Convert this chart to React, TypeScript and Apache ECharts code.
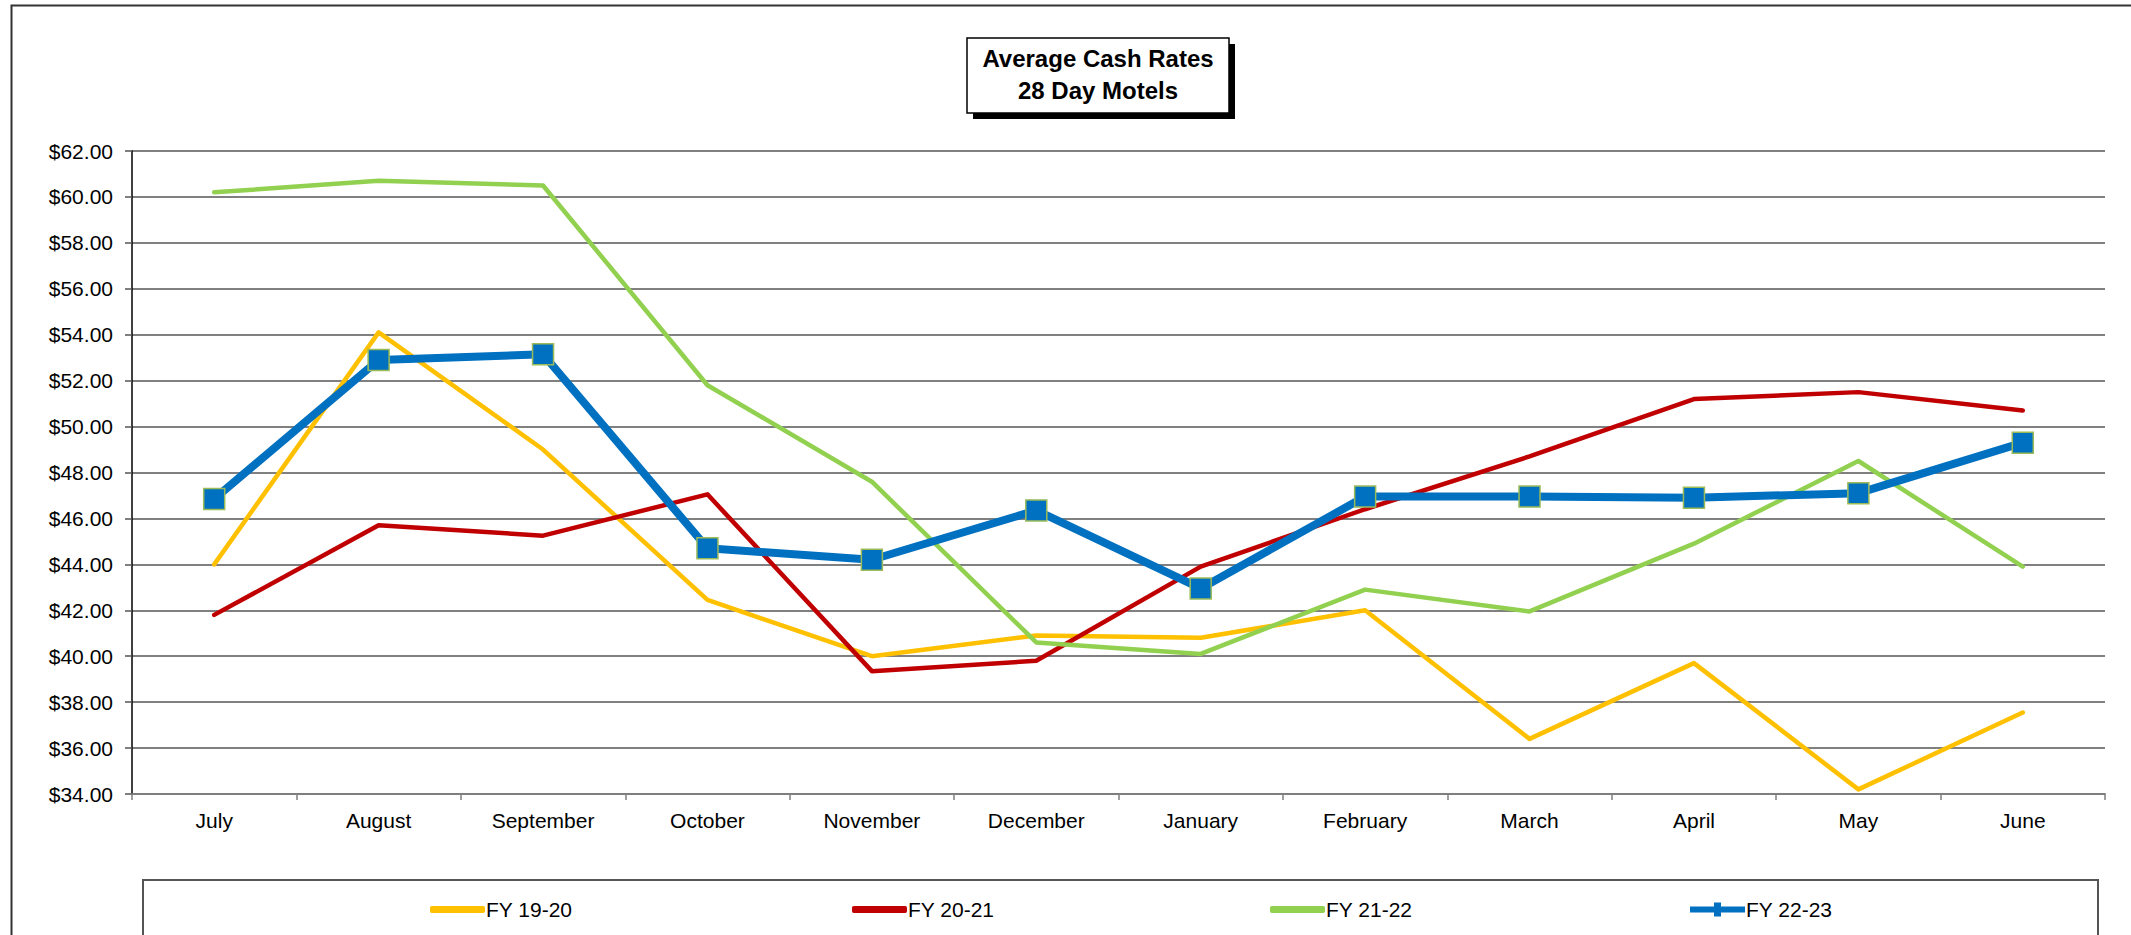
import React, { useEffect, useRef } from "react";
import * as echarts from "echarts";

const months = ["July", "August", "September", "October", "November", "December", "January", "February", "March", "April", "May", "June"];
const fy1920 = [44.0, 54.1, 49.0, 42.45, 40.0, 40.9, 40.8, 42.0, 36.4, 39.7, 34.2, 37.55];
const fy2021 = [41.8, 45.7, 45.25, 47.05, 39.35, 39.8, 43.9, 46.4, 48.7, 51.2, 51.5, 50.7];
const fy2122 = [60.2, 60.7, 60.5, 51.8, 47.6, 40.6, 40.1, 42.9, 41.95, 44.9, 48.5, 43.9];
const fy2223 = [46.85, 52.9, 53.15, 44.7, 44.2, 46.35, 42.95, 46.95, 46.95, 46.9, 47.1, 49.3];
const seriesNames = ["FY 19-20", "FY 20-21", "FY 21-22", "FY 22-23"];
const titleLines = ["Average Cash Rates", "28 Day Motels"];

const FONT = "'Liberation Sans', Arial, sans-serif";
const NARROW = "'Liberation Sans Narrow', 'Arial Narrow', 'Liberation Sans', sans-serif";
const BLUE_ICON = "path://M0,4L24,4L24,0L31,0L31,4L55,4L55,10L31,10L31,14L24,14L24,10L0,10Z";

export default function App() {
  const ref = useRef<HTMLDivElement>(null);
  useEffect(() => {
    const chart = echarts.init(ref.current!, null, { renderer: "svg" });
    const legendLefts = [425, 847, 1265, 1685];
    const lineSeries = (name: string, data: number[], color: string, width: number) => ({
      name,
      type: "line",
      data,
      symbol: "none",
      lineStyle: { color, width, cap: "round", join: "round" },
      itemStyle: { color },
    });
    chart.setOption({
      animation: false,
      backgroundColor: "#fff",
      textStyle: { fontFamily: FONT },
      grid: { left: 132, right: 26, top: 151, bottom: 141 },
      xAxis: {
        type: "category",
        data: months,
        boundaryGap: true,
        axisLine: { lineStyle: { color: "#7f7f7f", width: 2 } },
        axisTick: { show: true, length: 6, lineStyle: { color: "#7f7f7f", width: 1.5 } },
        axisLabel: { color: "#000", fontSize: 21, fontFamily: FONT, margin: 16 },
      },
      yAxis: {
        type: "value",
        min: 34,
        max: 62,
        interval: 2,
        axisLine: { show: true, lineStyle: { color: "#000", width: 1.5 } },
        axisTick: { show: true, length: 7, lineStyle: { color: "#555", width: 1.5 } },
        axisLabel: {
          color: "#000",
          fontSize: 21,
          fontFamily: FONT,
          margin: 19,
          formatter: (v: number) => "$" + v.toFixed(2),
        },
        splitLine: { show: true, lineStyle: { color: "#808080", width: 2 } },
      },
      legend: seriesNames.map((n, i) => ({
        data: [n],
        left: legendLefts[i],
        top: 894,
        icon: i === 3 ? BLUE_ICON : "roundRect",
        itemWidth: 55,
        itemHeight: i === 3 ? 14 : 7,
        itemGap: 0,
        itemStyle: { borderWidth: 0 },
        textStyle: { fontSize: 21, fontFamily: NARROW, color: "#000", padding: [0, 0, 0, -4] },
      })),
      series: [
        lineSeries(seriesNames[0], fy1920, "#FFC000", 4.5),
        lineSeries(seriesNames[1], fy2021, "#C00000", 4.5),
        lineSeries(seriesNames[2], fy2122, "#92D050", 4.5),
        {
          name: seriesNames[3],
          type: "line",
          data: fy2223,
          symbol: "rect",
          symbolSize: 21,
          lineStyle: { color: "#0070C0", width: 8, cap: "round", join: "round" },
          itemStyle: { color: "#0070C0", borderColor: "#9BBB59", borderWidth: 1.5 },
          z: 5,
        },
      ],
      graphic: [
        {
          type: "rect",
          shape: { x: 11.5, y: 5.5, width: 2200, height: 1100 },
          style: { fill: "none", stroke: "#333", lineWidth: 2 },
          silent: true,
          z: 0,
        },
        {
          type: "rect",
          shape: { x: 143, y: 880, width: 1955, height: 120 },
          style: { fill: "none", stroke: "#555", lineWidth: 2 },
          silent: true,
        },
        {
          type: "rect",
          shape: { x: 973, y: 44, width: 262, height: 75 },
          style: { fill: "#000", stroke: "none" },
          silent: true,
          z: 10,
        },
        {
          type: "rect",
          shape: { x: 967, y: 38, width: 262, height: 75 },
          style: { fill: "#fff", stroke: "#000", lineWidth: 1.5 },
          silent: true,
          z: 11,
        },
        {
          type: "text",
          x: 1098,
          y: 58,
          style: {
            text: titleLines[0],
            font: "bold 24px " + FONT,
            fill: "#000",
            textAlign: "center",
            textVerticalAlign: "middle",
          },
          silent: true,
          z: 12,
        },
        {
          type: "text",
          x: 1098,
          y: 90,
          style: {
            text: titleLines[1],
            font: "bold 24px " + FONT,
            fill: "#000",
            textAlign: "center",
            textVerticalAlign: "middle",
          },
          silent: true,
          z: 12,
        },
      ],
    });
    return () => chart.dispose();
  }, []);
  return <div ref={ref} style={{ position: "absolute", left: 0, top: 0, width: 2131, height: 935 }} />;
}
